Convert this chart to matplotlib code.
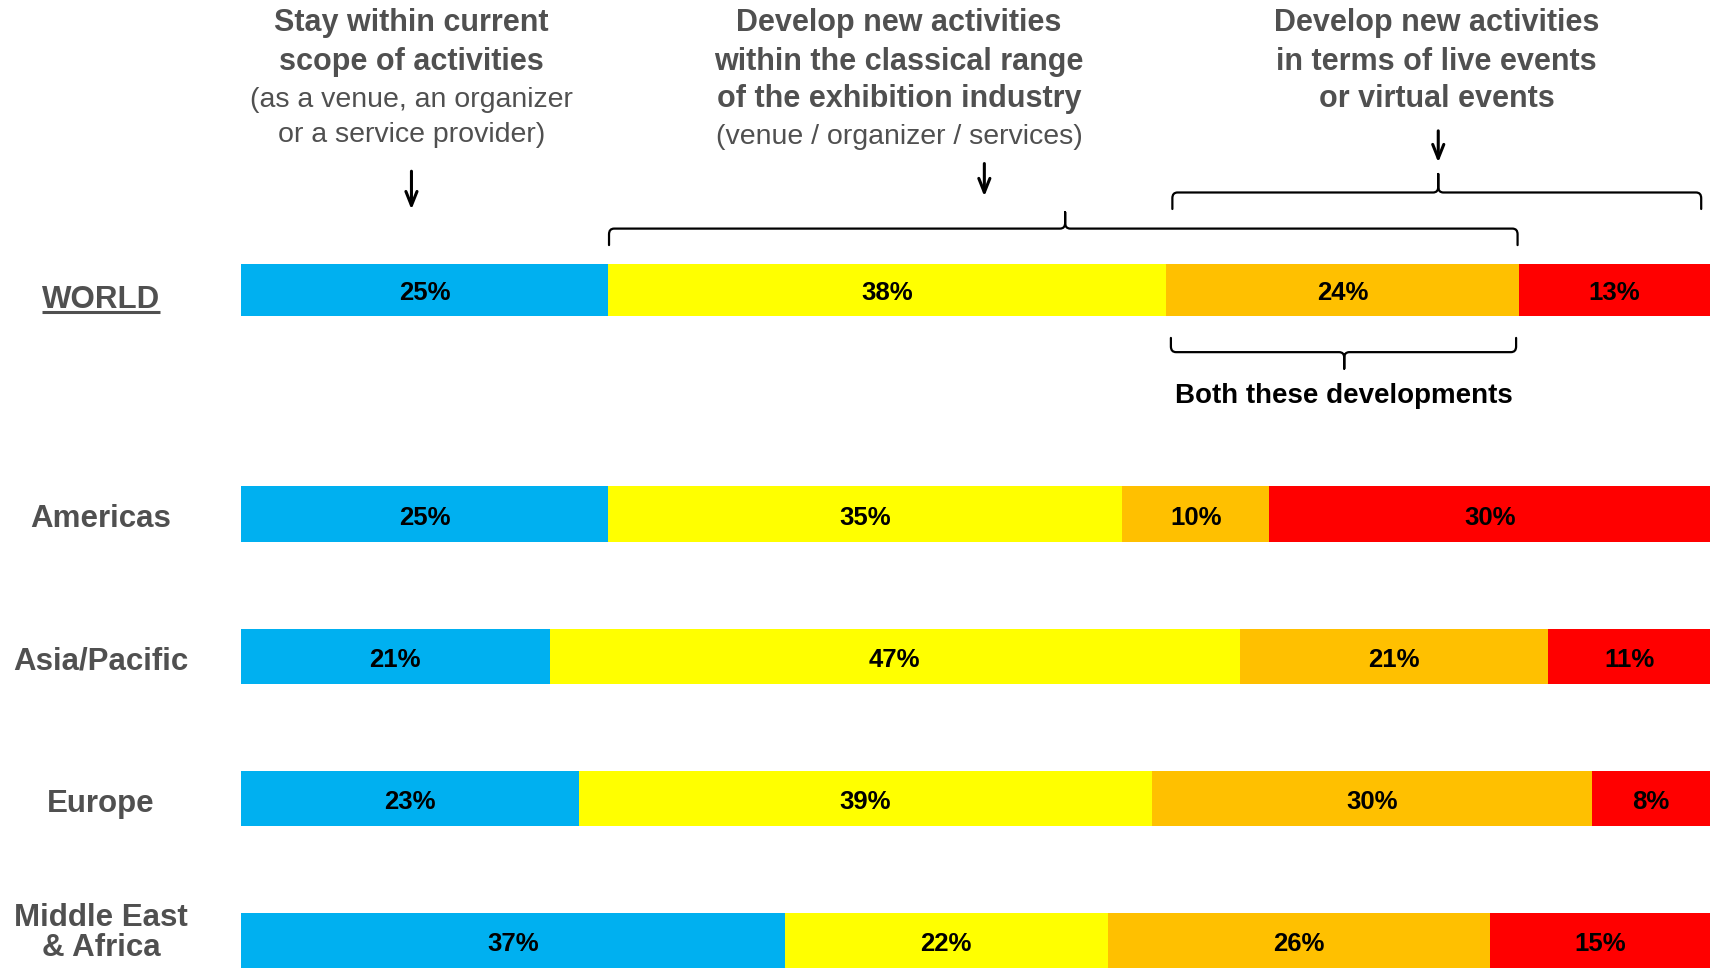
import matplotlib.pyplot as plt
from matplotlib.path import Path
from matplotlib.patches import PathPatch

plt.rcParams['font.family'] = ['Liberation Sans', 'DejaVu Sans']

# share of respondents per strategy (%)
regions = ['WORLD', 'Americas', 'Asia/Pacific', 'Europe', 'Middle East\n& Africa']
stay_current = [25, 25, 21, 23, 37]
classical_range = [38, 35, 47, 39, 22]
both_developments = [24, 10, 21, 30, 26]
live_or_virtual = [13, 30, 11, 8, 15]

row_pos = [0, 1.577, 2.577, 3.577, 4.577]
bar_height = [0.37, 0.39, 0.39, 0.39, 0.39]
colors = ['#00B0F0', '#FFFF00', '#FFC000', '#FF0000']
gray = '#505050'

fig = plt.figure(figsize=(17.15, 9.70), dpi=100)
ax = fig.add_axes([0, 0, 1, 1])
ax.set_xlim(-16.41, 100.34)
ax.set_ylim(4.777, -2.046)
ax.axis('off')

left = [0] * len(regions)
for vals, col in zip([stay_current, classical_range, both_developments, live_or_virtual], colors):
    bars = ax.barh(row_pos, vals, left=left, height=bar_height, color=col)
    labels = ax.bar_label(bars, labels=[f'{v}%' for v in vals], label_type='center',
                          fontsize=18.5, fontweight='bold', color='black')
    for t in labels:
        t.set_verticalalignment('center_baseline')
    left = [l + v for l, v in zip(left, vals)]

# region names on the left
for i, (name, y) in enumerate(zip(regions, row_pos)):
    if i == 0:
        world = ax.text(-9.53, 0.121, name, ha='center', va='baseline',
                        fontsize=22.5, fontweight='bold', color=gray)
    elif '\n' in name:
        ax.text(-9.53, y - 0.06, name, ha='center', va='center', fontsize=22.5,
                fontweight='bold', color=gray, linespacing=1.0)
    else:
        ax.text(-9.53, y + 0.03, name, ha='center', va='center', fontsize=22.5,
                fontweight='bold', color=gray)


def header(x, bold_lines, bold_y, reg_lines=(), reg_y=()):
    for t, y in zip(bold_lines, bold_y):
        ax.text(x, y, t, ha='center', va='center', fontsize=22, fontweight='bold', color=gray)
    for t, y in zip(reg_lines, reg_y):
        ax.text(x, y, t, ha='center', va='center', fontsize=20.5, color=gray)


header(11.6, ['Stay within current', 'scope of activities'], [-1.887, -1.612],
       ['(as a venue, an organizer', 'or a service provider)'], [-1.343, -1.097])
header(44.8, ['Develop new activities', 'within the classical range', 'of the exhibition industry'],
       [-1.887, -1.612, -1.348], ['(venue / organizer / services)'], [-1.081])
header(81.4, ['Develop new activities', 'in terms of live events', 'or virtual events'],
       [-1.887, -1.612, -1.348])


def arrow(x, y0, y1):
    ax.annotate('', xy=(x, y1), xytext=(x, y0),
                arrowprops=dict(arrowstyle='->,head_length=1.0,head_width=0.4', lw=2.2, color='black'))


arrow(11.6, -0.854, -0.546)
arrow(50.6, -0.908, -0.638)
arrow(81.5, -1.138, -0.877)


def bracket(x0, x1, xm, y, y_end, y_tip, rx=0.35, ry=0.04):
    s_end = 1 if y_end > y else -1
    s_tip = 1 if y_tip > y else -1
    verts = [(x0, y_end), (x0, y + s_end * ry), (x0, y), (x0 + rx, y),
             (xm - rx, y), (xm, y), (xm, y + s_tip * ry), (xm, y_tip),
             (xm, y + s_tip * ry), (xm, y), (xm + rx, y),
             (x1 - rx, y), (x1, y), (x1, y + s_end * ry), (x1, y_end)]
    codes = [Path.MOVETO, Path.LINETO, Path.CURVE3, Path.CURVE3,
             Path.LINETO, Path.CURVE3, Path.CURVE3, Path.LINETO,
             Path.LINETO, Path.CURVE3, Path.CURVE3,
             Path.LINETO, Path.CURVE3, Path.CURVE3, Path.LINETO]
    ax.add_patch(PathPatch(Path(verts, codes), fill=False, lw=1.6, edgecolor='black',
                           capstyle='round', joinstyle='round'))


bracket(25.05, 86.9, 56.1, -0.431, -0.315, -0.546)
bracket(63.4, 99.4, 81.5, -0.685, -0.569, -0.815)
bracket(63.3, 86.8, 75.1, 0.438, 0.338, 0.554)
ax.text(75.1, 0.738, 'Both these developments', ha='center', va='center',
        fontsize=20, fontweight='bold', color='black')

# underline under WORLD
fig.canvas.draw()
bb = world.get_window_extent().transformed(ax.transData.inverted())
ax.plot([bb.x0, bb.x1], [0.154, 0.154], color=gray, lw=2.2, solid_capstyle='butt')

fig.savefig('out.png', dpi=100)
